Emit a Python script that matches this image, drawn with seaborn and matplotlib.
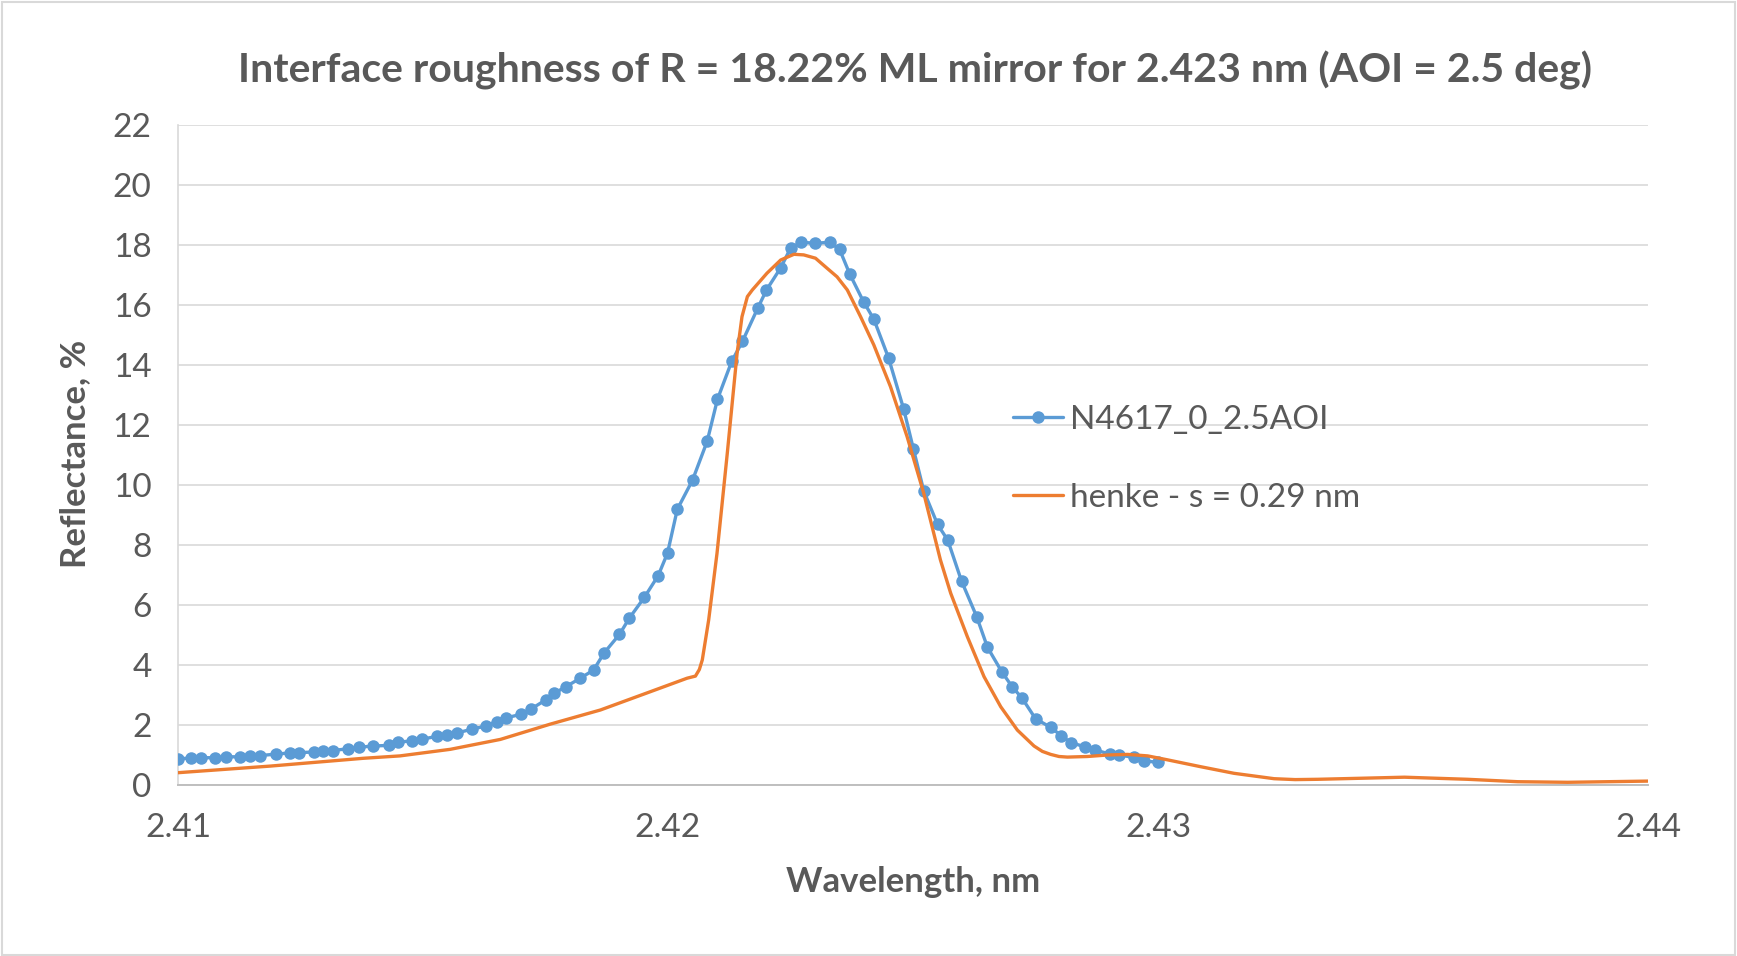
import matplotlib
matplotlib.use("Agg")
import matplotlib.pyplot as plt
import seaborn as sns
import pandas as pd
from matplotlib.patches import Rectangle

# ---- data ----
meas_wl = [2.41000, 2.41027, 2.41047, 2.41076, 2.41098, 2.41127, 2.41147, 2.41167,
           2.41200, 2.41229, 2.41247, 2.41278, 2.41296, 2.41317, 2.41347, 2.41370,
           2.41398, 2.41431, 2.41449, 2.41478, 2.41498, 2.41529, 2.41549, 2.41570,
           2.41600, 2.41629, 2.41650, 2.41670, 2.41701, 2.41721, 2.41750, 2.41768,
           2.41792, 2.41821, 2.41848, 2.41870, 2.41901, 2.41921, 2.41952, 2.41980,
           2.41999, 2.42019, 2.42050, 2.42080, 2.42101, 2.42130, 2.42152, 2.42183,
           2.42201, 2.42230, 2.42250, 2.42272, 2.42301, 2.42330, 2.42350, 2.42371,
           2.42399, 2.42420, 2.42450, 2.42481, 2.42501, 2.42522, 2.42550, 2.42571,
           2.42599, 2.42630, 2.42652, 2.42681, 2.42703, 2.42722, 2.42750, 2.42781,
           2.42803, 2.42822, 2.42850, 2.42871, 2.42902, 2.42920, 2.42951, 2.42971,
           2.43000]
meas_r = [0.86, 0.91, 0.91, 0.91, 0.94, 0.94, 0.97, 0.98,
          1.03, 1.07, 1.08, 1.10, 1.13, 1.15, 1.21, 1.26,
          1.30, 1.32, 1.43, 1.47, 1.53, 1.62, 1.67, 1.74,
          1.86, 1.97, 2.11, 2.24, 2.36, 2.54, 2.83, 3.06,
          3.28, 3.56, 3.83, 4.41, 5.02, 5.56, 6.26, 6.98,
          7.73, 9.19, 10.16, 11.46, 12.86, 14.12, 14.79, 15.89,
          16.50, 17.24, 17.89, 18.09, 18.06, 18.09, 17.86, 17.03,
          16.11, 15.53, 14.24, 12.53, 11.19, 9.80, 8.69, 8.16,
          6.80, 5.61, 4.59, 3.78, 3.26, 2.91, 2.21, 1.92,
          1.64, 1.41, 1.28, 1.17, 1.03, 1.00, 0.92, 0.80,
          0.76]

henke_wl = [2.41000, 2.41188, 2.41378, 2.41453, 2.41556, 2.41658, 2.41760, 2.41862,
            2.41964, 2.42039, 2.42056, 2.42064, 2.42070, 2.42083, 2.42100, 2.42121,
            2.42141, 2.42151, 2.42162, 2.42172, 2.42202, 2.42230, 2.42257, 2.42277,
            2.42301, 2.42325, 2.42345, 2.42366, 2.42393, 2.42420, 2.42454, 2.42488,
            2.42522, 2.42556, 2.42577, 2.42611, 2.42645, 2.42679, 2.42713, 2.42747,
            2.42764, 2.42781, 2.42798, 2.42815, 2.42856, 2.42897, 2.42938, 2.42979,
            2.43019, 2.43087, 2.43155, 2.43237, 2.43280, 2.43326, 2.43503, 2.43632,
            2.43734, 2.43836, 2.44000]
henke_r = [0.41, 0.63, 0.89, 0.97, 1.19, 1.52, 2.03, 2.50,
           3.11, 3.56, 3.63, 3.85, 4.17, 5.50, 7.72, 11.06,
           14.39, 15.61, 16.28, 16.50, 17.06, 17.50, 17.69, 17.67,
           17.56, 17.22, 16.94, 16.50, 15.61, 14.67, 13.28, 11.61,
           9.72, 7.50, 6.39, 4.94, 3.61, 2.61, 1.83, 1.30,
           1.12, 1.02, 0.95, 0.93, 0.95, 1.00, 1.02, 0.97,
           0.84, 0.61, 0.39, 0.21, 0.18, 0.19, 0.26, 0.19,
           0.11, 0.09, 0.13]

x_ticks = [2.41, 2.42, 2.43, 2.44]
x_tick_labels = ["2.41", "2.42", "2.43", "2.44"]
y_ticks = [0, 2, 4, 6, 8, 10, 12, 14, 16, 18, 20, 22]

meas_label = "N4617_0_2.5AOI"
henke_label = "henke - s = 0.29 nm"
title = "Interface roughness of R = 18.22% ML mirror for 2.423 nm (AOI = 2.5 deg)"
xlabel = "Wavelength, nm"
ylabel = "Reflectance, %"

# ---- styling ----
sns.set_theme(style="white")
plt.rcParams['font.family'] = ['Lato', 'DejaVu Sans']
text_color = "#595959"
blue = "#5B9BD5"
orange = "#ED7D31"

df_meas = pd.DataFrame({"wl": meas_wl, "r": meas_r})
df_henke = pd.DataFrame({"wl": henke_wl, "r": henke_r})

fig = plt.figure(figsize=(17.37, 9.56), dpi=100)
fig.patch.set_facecolor("white")
ax = fig.add_axes([178 / 1737, 1 - 785 / 956, 1470 / 1737, 660 / 956])

sns.lineplot(data=df_meas, x="wl", y="r", ax=ax, color=blue, linewidth=2.4,
             marker="o", markersize=9, markeredgewidth=0, estimator=None,
             sort=False, label=meas_label, zorder=3)
sns.lineplot(data=df_henke, x="wl", y="r", ax=ax, color=orange, linewidth=2.4,
             estimator=None, sort=False, label=henke_label, zorder=4)

ax.set_xlim(2.41, 2.44)
ax.set_ylim(0, 22)
ax.set_xticks(x_ticks)
ax.set_xticklabels(x_tick_labels)
ax.set_yticks(y_ticks)
ax.yaxis.grid(True, color="#D9D9D9", linewidth=1.2)
ax.xaxis.grid(False)
ax.set_axisbelow(True)

for s in ["top", "right"]:
    ax.spines[s].set_visible(False)
ax.spines["left"].set_color("#D9D9D9")
ax.spines["left"].set_linewidth(1.2)
ax.spines["bottom"].set_color("#BFBFBF")
ax.spines["bottom"].set_linewidth(1.4)

ax.tick_params(axis="both", length=0, labelsize=24, colors=text_color)
ax.tick_params(axis="y", pad=19)
ax.tick_params(axis="x", pad=20)

ax.set_xlabel(xlabel, fontsize=25, fontweight="bold", color=text_color)
ax.set_ylabel(ylabel, fontsize=25, fontweight="bold", color=text_color)
ax.xaxis.set_label_coords((913 - 178) / 1470, -(882 - 785) / 660)
ax.yaxis.set_label_coords(-(178 - 75) / 1470, (785 - 454) / 660)
ax.xaxis.label.set_verticalalignment("center")
ax.yaxis.label.set_verticalalignment("center")

fig.text(915 / 1737, 1 - 70 / 956, title, ha="center", va="center",
         fontsize=29.5, fontweight="bold", color=text_color)

leg = ax.legend(loc="center left", bbox_to_anchor=((1013 - 178) / 1470, (785 - 459) / 660),
                frameon=False, fontsize=24, handlelength=1.5, handletextpad=0.2,
                labelspacing=1.43, borderpad=0, borderaxespad=0)
for t in leg.get_texts():
    t.set_color(text_color)

fig.patches.append(Rectangle((0.001, 0.001), 0.998, 0.997, transform=fig.transFigure,
                             fill=False, edgecolor="#D9D9D9", linewidth=1.5))

fig.savefig("out.png", dpi=100)
